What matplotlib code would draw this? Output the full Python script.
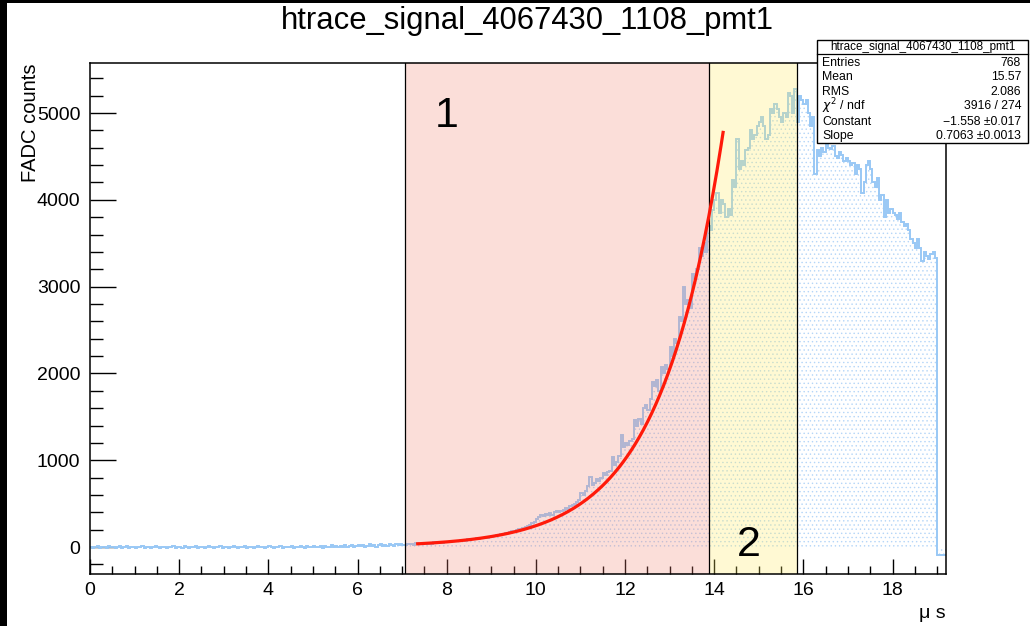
import numpy as np
import matplotlib
matplotlib.use("Agg")
import matplotlib.pyplot as plt
from matplotlib.patches import Rectangle

plt.rcParams['font.family'] = ['Liberation Sans', 'DejaVu Sans']
plt.rcParams['hatch.linewidth'] = 0.5

# ---------------- data ----------------
title = "htrace_signal_4067430_1108_pmt1"
bin_width = 0.05  # microseconds
counts = [
    # 0-1
    5, -10, 0, 10, -5, 5, 0, -15, 10, 5, 0, -10, 5, 10, -5, 0, 15, -5, 5, 0,
    # 1-2
    -10, 5, 0, 10, -5, 0, 5, -15, 5, 10, 0, -5, 5, 0, -10, 5, 0, 10, -5, 5,
    # 2-3
    0, -10, 10, 5, -5, 0, 5, 10, -10, 0, 5, -5, 0, 10, 5, -15, 0, 5, 10, -5,
    # 3-4
    5, 0, -10, 5, 10, 0, -5, 5, 0, 10, -5, 5, 0, -10, 5, 10, 0, 5, -5, 0,
    # 4-5
    10, 5, -5, 0, 5, 10, -5, 0, 5, 0, 10, -10, 5, 0, 15, 5, -5, 10, 0, 5,
    # 5-6
    10, 0, 5, 15, -5, 10, 5, 0, 20, 5, 10, 0, 15, 5, 25, 0, 10, 20, 5, 15,
    # 6-7
    20, 10, 25, 5, 15, 30, 10, 20, 5, 25, 35, 15, 20, 10, 30, 25, 15, 35, 20, 30,
    # 7-8
    25, 20, 40, 30, 35, 25, 45, 35, 30, 40, 50, 40, 45, 35, 55, 45, 50, 60, 50, 55,
    # 8-9
    60, 55, 70, 65, 75, 70, 80, 85, 75, 90, 85, 95, 90, 100, 95, 110, 105, 115, 110, 120,
    # 9-10
    125, 130, 140, 135, 150, 155, 165, 160, 175, 185, 180, 195, 205, 200, 220, 235, 245, 260, 275, 290,
    # 10-11
    320, 350, 370, 360, 380, 370, 390, 375, 400, 410, 400, 420, 430, 450, 440, 470, 480, 500, 520, 540,
    # 11-12
    620, 600, 650, 700, 805, 720, 740, 780, 760, 800, 850, 830, 860, 880, 1035, 950, 980, 1050, 1290, 1150,
    # 12-13
    1200, 1180, 1220, 1250, 1460, 1400, 1470, 1420, 1600, 1640, 1580, 1700, 1900, 1850, 1920, 1800, 2075, 2000, 2100, 2050,
    # 13-14
    2300, 2200, 2400, 2350, 2650, 2600, 3000, 2800, 2850, 2750, 3150, 3100, 3200, 3450, 3350, 3500, 3400, 3700, 3650, 3880,
    # 14-15
    4000, 4080, 3850, 4000, 3950, 3800, 3900, 3820, 4230, 4150, 4700, 4350, 4450, 4400, 4570, 4600, 4800, 4700, 4750, 4850,
    # 15-16
    4900, 4950, 4850, 4700, 4750, 5050, 5000, 5100, 5050, 4950, 4900, 5000, 4950, 5230, 5200, 5000, 5280, 4900, 5200, 5150,
    # 16-17
    5100, 5150, 5000, 4850, 4950, 4300, 4570, 4500, 4600, 4550, 4650, 4600, 4580, 4620, 4500, 4480, 4550, 4520, 4450, 4480,
    # 17-18
    4450, 4400, 4420, 4300, 4400, 4350, 4080, 4200, 4400, 4450, 4350, 4200, 4150, 4250, 4000, 4050, 3800, 4000, 3850, 3900,
    # 18-19
    3850, 3820, 3780, 3850, 3750, 3700, 3720, 3650, 3550, 3500, 3450, 3550, 3450, 3300, 3400, 3350, 3320, 3380, 3400, 3330,
    # 19-19.2
    -90, -90, -90, -90,
]

# regions (microseconds)
region1 = (7.06, 13.88)
region2 = (13.88, 15.85)
region_labels = ["1", "2"]

# fit (expo): exp(Constant + Slope*x)
fit_constant = -1.558
fit_slope = 0.7063
fit_range = (7.35, 14.2)

stats_labels = ["Entries", "Mean", "RMS", r"$\chi^{2}$ / ndf", "Constant", "Slope"]
stats_values = ["768", "15.57", "2.086", "3916 / 274", "\u22121.558 \u00b10.017", "0.7063 \u00b10.0013"]

# ---------------- figure ----------------
W, H = 1030, 626
fig = plt.figure(figsize=(W / 100, H / 100), dpi=100)
fig.patch.set_facecolor("white")

def fx(px):
    return px / W

def fy(py):
    return 1 - py / H

# black border strips (left / top) as in reference
fig.patches.append(Rectangle((0, 0), fx(7), 1, transform=fig.transFigure,
                             facecolor="black", edgecolor="none", zorder=0))
fig.patches.append(Rectangle((0, fy(3)), 1, 1 - fy(3), transform=fig.transFigure,
                             facecolor="black", edgecolor="none", zorder=0))

ax = fig.add_axes([fx(90), fy(574), fx(946) - fx(90), fy(63) - fy(574)])

counts = np.array(counts, dtype=float)
edges = np.arange(len(counts) + 1) * bin_width

line_col = "#99c8f5"
ax.stairs(counts, edges, baseline=0, fill=True, facecolor="none",
          edgecolor="#b5d6f8", hatch="....", linewidth=0, zorder=1)
ax.stairs(counts, edges, baseline=None, color=line_col, linewidth=1.4, zorder=2)

# semi-transparent region overlays
ax.axvspan(region1[0], region1[1], color=(0.95, 0.52, 0.46), alpha=0.27, lw=0, zorder=3)
ax.axvspan(region2[0], region2[1], color=(1.0, 0.93, 0.38), alpha=0.28, lw=0, zorder=3)
for xv in (region1[0], region1[1], region2[1]):
    ax.axvline(xv, color="black", lw=0.9, zorder=4)

# fit curve
xf = np.linspace(fit_range[0], fit_range[1], 300)
ax.plot(xf, np.exp(fit_constant + fit_slope * xf), color="#ff1a0a", lw=2.3, zorder=5)

ax.text(8.0, 4960, region_labels[0], fontsize=31, ha="center", va="center", zorder=6)
ax.text(14.78, 25, region_labels[1], fontsize=31, ha="center", va="center", zorder=6)

ax.set_xlim(0, 19.2)
ax.set_ylim(-310, 5576)
ax.set_xticks(np.arange(0, 19, 2))
ax.set_xticks(np.arange(0, 19.2, 0.5), minor=True)
ax.set_yticks(np.arange(0, 5001, 1000))
ax.set_yticks(np.arange(-200, 5576, 200), minor=True)
ax.tick_params(axis="both", which="both", direction="in", top=False, right=False,
               labelsize=14, color="black")
ax.tick_params(axis="x", which="major", length=11, width=1.0, pad=6)
ax.tick_params(axis="x", which="minor", length=6, width=1.0)
ax.tick_params(axis="y", which="major", length=19, width=1.0, pad=7)
ax.tick_params(axis="y", which="minor", length=9, width=1.0)
for s in ax.spines.values():
    s.set_linewidth(1.1)
    s.set_zorder(7)

# title and axis labels
fig.text(fx(527), fy(21), title, fontsize=22.3, ha="center", va="center")
fig.text(fx(31), fy(63), "FADC counts", fontsize=14.5, rotation=90, ha="center", va="top")
fig.text(fx(946), fy(613), "\u03bc s", fontsize=14, ha="right", va="center")

# stats box
bx0, by0, bx1, by1 = 817, 40, 1028, 143
fig.patches.append(Rectangle((fx(bx0), fy(by1)), fx(bx1) - fx(bx0), fy(by0) - fy(by1),
                             transform=fig.transFigure, facecolor="white",
                             edgecolor="black", lw=1.0, zorder=10))
fig.add_artist(plt.Line2D([fx(bx0), fx(bx1)], [fy(54), fy(54)], transform=fig.transFigure,
                          color="black", lw=0.9, zorder=11))
fig.text(fx((bx0 + bx1) / 2), fy(47), title, fontsize=8.4, ha="center", va="center", zorder=12)
row_y = [63, 77, 92, 106, 122, 136]
for lab, val, yy in zip(stats_labels, stats_values, row_y):
    fig.text(fx(822), fy(yy), lab, fontsize=8.8, ha="left", va="center", zorder=12)
    fig.text(fx(1021), fy(yy), val, fontsize=8.8, ha="right", va="center", zorder=12)

fig.savefig("out.png", dpi=100)
